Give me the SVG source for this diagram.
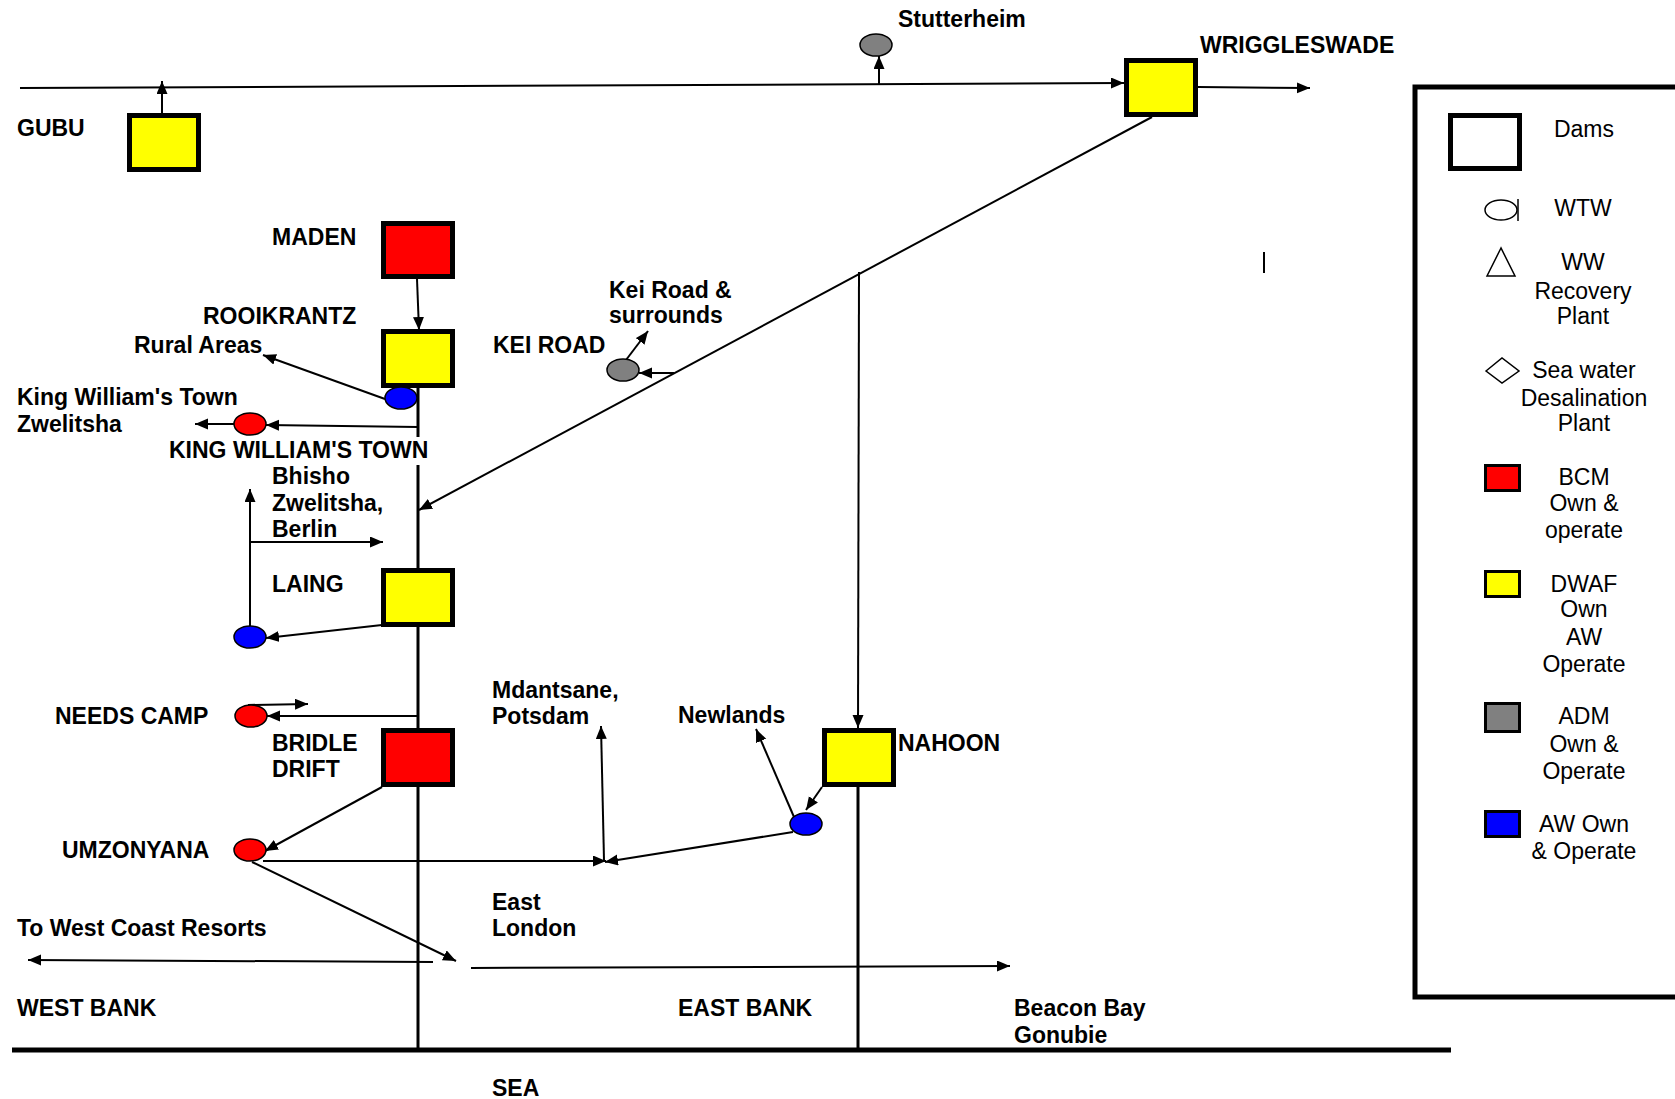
<svg xmlns="http://www.w3.org/2000/svg" width="1675" height="1099" viewBox="0 0 1675 1099">
  <style>
    .lbl { font-family: "Liberation Sans", Arial, sans-serif; font-size: 23px; font-weight: bold; fill: #000; }
    .leg { font-family: "Liberation Sans", Arial, sans-serif; font-size: 23px; fill: #000; text-anchor: middle; }
    .dam { stroke: #000; stroke-width: 5; }
    .plant { stroke: #000; stroke-width: 1.5; }
    .ln { stroke: #000; stroke-width: 2; fill: none; }
    .arr { stroke: #000; stroke-width: 2; fill: none; marker-end: url(#ah); }
    .main { stroke: #000; stroke-width: 3; fill: none; }
  </style>
  <defs>
    <marker id="ah" markerUnits="userSpaceOnUse" markerWidth="14" markerHeight="12" refX="13" refY="5.5" orient="auto">
      <path d="M0,0 L13,5.5 L0,11 z" fill="#000"/>
    </marker>
  </defs>
  <rect width="1675" height="1099" fill="#fff"/>

  <!-- connectors -->
  <g id="connectors">
    <path class="arr" d="M20,88 L1124,83"/>
    <path class="arr" d="M162,113 L162,81"/>
    <path class="arr" d="M879,84 L879,56"/>
    <path class="arr" d="M1198,87 L1310,88"/>
    <path class="arr" d="M1152,117 L419,510"/>
    <path class="arr" d="M859,272 L858,728"/>
    <path class="ln" d="M1264,252 L1264,273"/>
    <path class="arr" d="M674,373 L639,373"/>
    <path class="arr" d="M626,360 L648,331"/>
    <path class="arr" d="M417,279 L419,330"/>
    <path class="arr" d="M385,399 L263,355"/>
    <path class="main" d="M418,388 L418,437 M418,465 L418,1050"/>
    <path class="arr" d="M418,427 L266,425"/>
    <path class="arr" d="M234,424 L195,424"/>
    <path class="arr" d="M382,625 L266,638"/>
    <path class="arr" d="M250,626 L250,489"/>
    <path class="arr" d="M250,542 L383,542"/>
    <path class="arr" d="M418,716 L267,716"/>
    <path class="arr" d="M248,705 L308,704"/>
    <path class="arr" d="M382,787 L265,851"/>
    <path class="arr" d="M263,861 L606,861"/>
    <path class="arr" d="M252,862 L456,961"/>
    <path class="arr" d="M433,962 L28,960"/>
    <path class="arr" d="M471,968 L1010,966"/>
    <path class="arr" d="M794,817 L756,729"/>
    <path class="arr" d="M822,787 L806,810"/>
    <path class="arr" d="M793,832 L605,862"/>
    <path class="arr" d="M604,860 L601,726"/>
    <path class="main" d="M858,787 L858,1050"/>
    <path stroke="#000" stroke-width="5" d="M12,1050 L1451,1050"/>
  </g>

  <!-- dams -->
  <g id="gubu">
    <rect class="dam" x="129.5" y="115.5" width="69" height="54" fill="#ffff00"/>
    <text class="lbl" x="17" y="136">GUBU</text>
  </g>
  <g id="wriggleswade">
    <rect class="dam" x="1126.5" y="60.5" width="69" height="54" fill="#ffff00"/>
    <text class="lbl" x="1200" y="53">WRIGGLESWADE</text>
  </g>
  <g id="maden">
    <rect class="dam" x="383.5" y="223.5" width="69" height="53" fill="#ff0000"/>
    <text class="lbl" x="272" y="245">MADEN</text>
  </g>
  <g id="rooikrantz">
    <rect class="dam" x="383.5" y="331.5" width="69" height="54" fill="#ffff00"/>
    <text class="lbl" x="203" y="324">ROOIKRANTZ</text>
  </g>
  <g id="laing">
    <rect class="dam" x="383.5" y="570.5" width="69" height="54" fill="#ffff00"/>
    <text class="lbl" x="272" y="592">LAING</text>
  </g>
  <g id="bridle-drift">
    <rect class="dam" x="383.5" y="730.5" width="69" height="54" fill="#ff0000"/>
    <text class="lbl" x="272" y="751">BRIDLE</text>
    <text class="lbl" x="272" y="777">DRIFT</text>
  </g>
  <g id="nahoon">
    <rect class="dam" x="824.5" y="730.5" width="69" height="54" fill="#ffff00"/>
    <text class="lbl" x="898" y="751">NAHOON</text>
  </g>

  <!-- treatment works -->
  <g id="stutterheim">
    <ellipse class="plant" cx="876" cy="45" rx="16" ry="11" fill="#808080"/>
    <text class="lbl" x="898" y="27">Stutterheim</text>
  </g>
  <g id="kei-road">
    <ellipse class="plant" cx="623" cy="370" rx="16" ry="11" fill="#808080"/>
    <text class="lbl" x="493" y="353">KEI ROAD</text>
    <text class="lbl" x="609" y="298">Kei Road &amp;</text>
    <text class="lbl" x="609" y="323">surrounds</text>
  </g>
  <g id="rooikrantz-wtw">
    <ellipse class="plant" cx="401" cy="398" rx="16" ry="11" fill="#0000ff"/>
    <text class="lbl" x="134" y="353">Rural Areas</text>
  </g>
  <g id="king-williams-town">
    <ellipse class="plant" cx="250" cy="424" rx="16" ry="11" fill="#ff0000"/>
    <text class="lbl" x="17" y="405">King William's Town</text>
    <text class="lbl" x="17" y="432">Zwelitsha</text>
    <text class="lbl" x="169" y="458">KING WILLIAM'S TOWN</text>
  </g>
  <g id="laing-wtw">
    <ellipse class="plant" cx="250" cy="637" rx="16" ry="11" fill="#0000ff"/>
    <text class="lbl" x="272" y="484">Bhisho</text>
    <text class="lbl" x="272" y="511">Zwelitsha,</text>
    <text class="lbl" x="272" y="537">Berlin</text>
  </g>
  <g id="needs-camp">
    <ellipse class="plant" cx="251" cy="716" rx="16" ry="11" fill="#ff0000"/>
    <text class="lbl" x="55" y="724">NEEDS CAMP</text>
  </g>
  <g id="umzonyana">
    <ellipse class="plant" cx="250" cy="850" rx="16" ry="11" fill="#ff0000"/>
    <text class="lbl" x="62" y="858">UMZONYANA</text>
  </g>
  <g id="nahoon-wtw">
    <ellipse class="plant" cx="806" cy="824" rx="16" ry="11" fill="#0000ff"/>
    <text class="lbl" x="678" y="723">Newlands</text>
  </g>

  <!-- supply areas -->
  <g id="areas">
    <text class="lbl" x="492" y="698">Mdantsane,</text>
    <text class="lbl" x="492" y="724">Potsdam</text>
    <text class="lbl" x="492" y="910">East</text>
    <text class="lbl" x="492" y="936">London</text>
    <text class="lbl" x="17" y="936">To West Coast Resorts</text>
    <text class="lbl" x="17" y="1016">WEST BANK</text>
    <text class="lbl" x="678" y="1016">EAST BANK</text>
    <text class="lbl" x="1014" y="1016">Beacon Bay</text>
    <text class="lbl" x="1014" y="1043">Gonubie</text>
    <text class="lbl" x="492" y="1096">SEA</text>
  </g>

  <!-- legend -->
  <g id="legend">
    <path d="M1690,87 L1415,87 L1415,997 L1690,997" fill="none" stroke="#000" stroke-width="5"/>
    <rect x="1450.5" y="115.5" width="69" height="53" fill="#fff" stroke="#000" stroke-width="5"/>
    <text class="leg" x="1584" y="137">Dams</text>
    <ellipse cx="1501" cy="210" rx="16" ry="10" fill="#fff" stroke="#000" stroke-width="1.5"/>
    <path d="M1518,199 L1518,221" stroke="#000" stroke-width="1.5"/>
    <text class="leg" x="1583" y="216">WTW</text>
    <path d="M1501,248 L1487,276 L1515,276 z" fill="#fff" stroke="#000" stroke-width="1.5"/>
    <text class="leg" x="1583" y="270">WW</text>
    <text class="leg" x="1583" y="299">Recovery</text>
    <text class="leg" x="1583" y="324">Plant</text>
    <path d="M1486,371 L1502,358 L1519,371 L1502,383 z" fill="#fff" stroke="#000" stroke-width="1.5"/>
    <text class="leg" x="1584" y="378">Sea water</text>
    <text class="leg" x="1584" y="406">Desalination</text>
    <text class="leg" x="1584" y="431">Plant</text>
    <rect x="1485.5" y="465.5" width="34" height="25" fill="#ff0000" stroke="#000" stroke-width="3"/>
    <text class="leg" x="1584" y="485">BCM</text>
    <text class="leg" x="1584" y="511">Own &amp;</text>
    <text class="leg" x="1584" y="538">operate</text>
    <rect x="1485.5" y="571.5" width="34" height="25" fill="#ffff00" stroke="#000" stroke-width="3"/>
    <text class="leg" x="1584" y="592">DWAF</text>
    <text class="leg" x="1584" y="617">Own</text>
    <text class="leg" x="1584" y="645">AW</text>
    <text class="leg" x="1584" y="672">Operate</text>
    <rect x="1485.5" y="703.5" width="34" height="28" fill="#808080" stroke="#000" stroke-width="3"/>
    <text class="leg" x="1584" y="724">ADM</text>
    <text class="leg" x="1584" y="752">Own &amp;</text>
    <text class="leg" x="1584" y="779">Operate</text>
    <rect x="1485.5" y="811.5" width="34" height="25" fill="#0000ff" stroke="#000" stroke-width="3"/>
    <text class="leg" x="1584" y="832">AW Own</text>
    <text class="leg" x="1584" y="859">&amp; Operate</text>
  </g>
</svg>
